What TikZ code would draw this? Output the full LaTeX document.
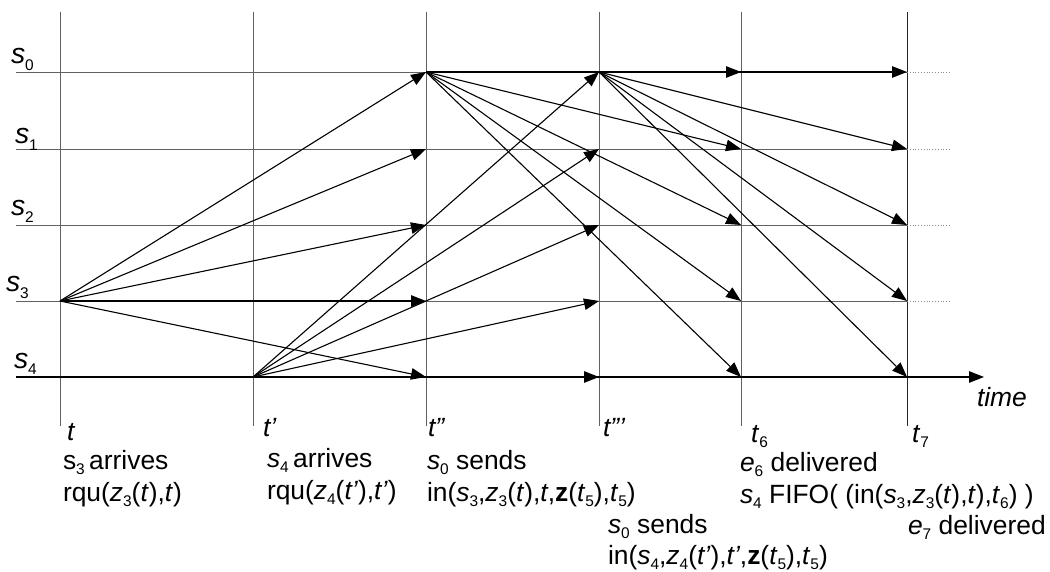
\documentclass[tikz,border=0pt]{standalone}
\usepackage{fontspec}
\setmainfont{Liberation Sans}
\usetikzlibrary{arrows.meta}
\newcommand{\sbs}[1]{\raisebox{-0.22em}{\fontsize{15.5}{15.5}\selectfont #1}}
\begin{document}
\begin{tikzpicture}[x=1bp,y=-1bp,
  gridline/.style={draw=black!62, line width=0.9bp},
  dotline/.style={draw=black!45, line width=0.8bp, dotted},
  msg/.style={draw=black, line width=1.1bp, -{Triangle[length=15bp,width=11.5bp]}},
  axisline/.style={draw=black, line width=1.1bp, -{Triangle[length=15bp,width=11.5bp]}},
  lbl/.style={anchor=base west, inner sep=0pt, outer sep=0pt, font=\fontsize{26.5}{30}\selectfont},
  plbl/.style={lbl, font=\fontsize{28.5}{30}\selectfont},
]
\useasboundingbox (0,0) rectangle (1050,572);
% grid points
\foreach \c/\x in {0/60,1/253,2/426,3/599,4/741,5/907}{
  \coordinate (top\c) at (\x,12);
  \coordinate (bot\c) at (\x,426);
  \foreach \r/\y in {0/72,1/149,2/225,3/301,4/377}{
    \coordinate (p\c\r) at (\x,\y);
  }
}
\foreach \r/\y in {0/72,1/149,2/225,3/301,4/377}{
  \coordinate (L\r) at (16,\y);
  \coordinate (D\r) at (950,\y);
}
\coordinate (tend) at (984,377);
% vertical time lines
\foreach \c in {0,1,2,3,4}{ \draw[gridline] (top\c) -- (bot\c); }
\draw[gridline, draw=black!85] (top5) -- (bot5);
% process lines
\foreach \r in {0,1,2,3}{
  \draw[gridline] (L\r) -- (p5\r);
  \draw[dotline] (p5\r) -- (D\r);
}
\draw[axisline] (L4) -- (tend);
% messages
\foreach \r in {0,1,2,3,4}{
  \draw[msg] (p03) -- (p2\r);
  \draw[msg] (p14) -- (p3\r);
  \draw[msg] (p20) -- (p4\r);
  \draw[msg] (p30) -- (p5\r);
}
% process labels
\node[plbl] (ls0) at (11,64) {\textit{s}\sbs{0}};
\node[plbl] (ls1) at (15,144) {\textit{s}\sbs{1}};
\node[plbl] (ls2) at (11,216) {\textit{s}\sbs{2}};
\node[plbl] (ls3) at (6,292) {\textit{s}\sbs{3}};
\node[plbl] (ls4) at (14,368) {\textit{s}\sbs{4}};
% time labels
\node[lbl] (lt0) at (67,440) {\textit{t}};
\node[lbl] (lt1) at (263,436) {\textit{t’}};
\node[lbl] (lt2) at (428,436) {\textit{t”}};
\node[lbl] (lt3) at (603,436) {\textit{t”’}};
\node[lbl] (lt4) at (751,442) {\textit{t}\sbs{6}};
\node[lbl] (lt5) at (912,442) {\textit{t}\sbs{7}};
\node[lbl] (ltime) at (977,406) {\textit{time}};
% event texts
\node[lbl] (a1) at (63,469) {s\sbs{3}\,arrives};
\node[lbl] (a2) at (63,501) {rqu(\textit{z}\sbs{3}(\textit{t}),\textit{t})};
\node[lbl] (b1) at (267,467) {\textit{s}\sbs{4}\,arrives};
\node[lbl] (b2) at (267,499) {rqu(\textit{z}\sbs{4}(\textit{t’}),\textit{t’})};
\node[lbl] (c1) at (427,469) {\textit{s}\sbs{0} sends};
\node[lbl] (c2) at (427,501) {in(\textit{s}\sbs{3},\textit{z}\sbs{3}(\textit{t}),\textit{t},\textbf{z}(\textit{t}\sbs{5}),\textit{t}\sbs{5})};
\node[lbl] (d1) at (608,533) {\textit{s}\sbs{0} sends};
\node[lbl] (d2) at (608,564) {in(\textit{s}\sbs{4},\textit{z}\sbs{4}(\textit{t’}),\textit{t’},\textbf{z}(\textit{t}\sbs{5}),\textit{t}\sbs{5})};
\node[lbl] (e1) at (740,471) {\textit{e}\sbs{6} delivered};
\node[lbl] (e2) at (740,503) {\textit{s}\sbs{4} FIFO( (in(\textit{s}\sbs{3},\textit{z}\sbs{3}(\textit{t}),\textit{t}),\textit{t}\sbs{6}) )};
\node[lbl] (f1) at (908,534) {\textit{e}\sbs{7} delivered};
\end{tikzpicture}
\end{document}
